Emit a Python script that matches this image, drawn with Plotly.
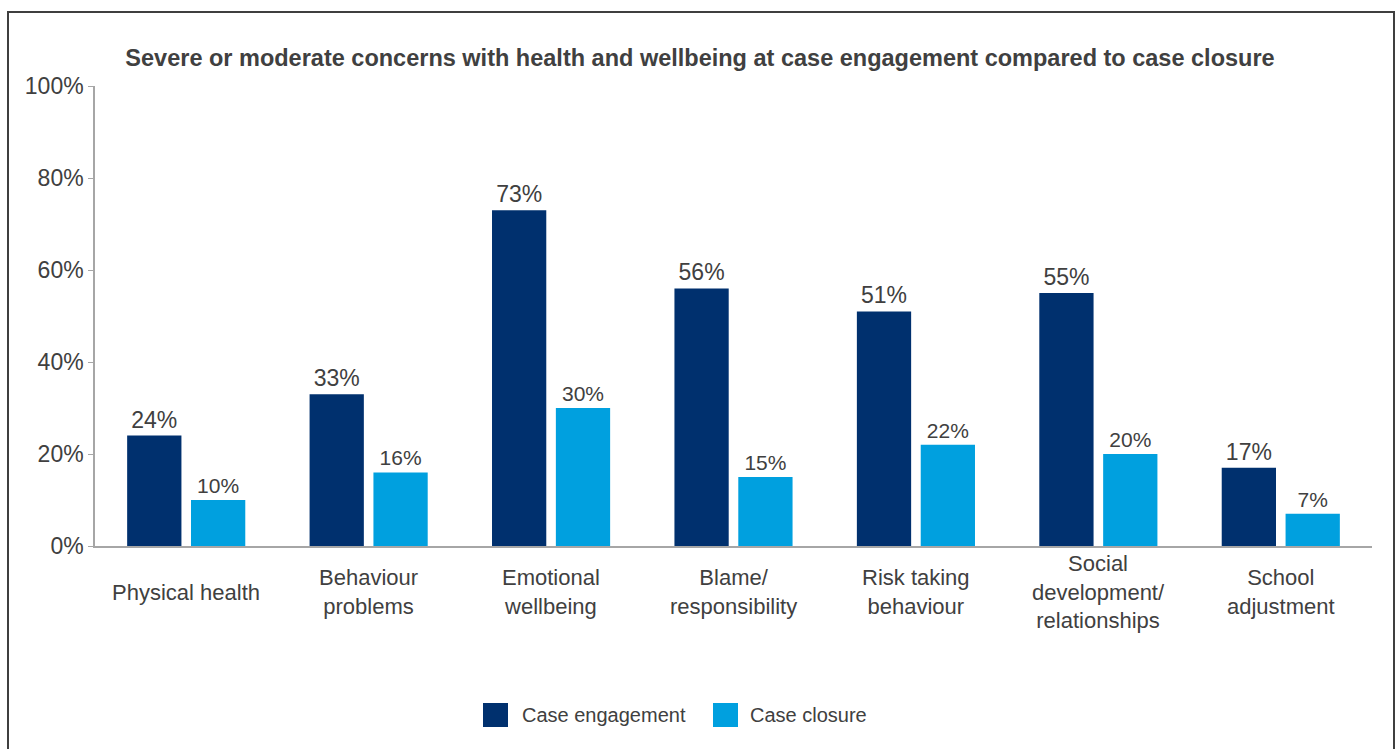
import plotly.graph_objects as go

categories = [
    "Physical health",
    "Behaviour<br>problems",
    "Emotional<br>wellbeing",
    "Blame/<br>responsibility",
    "Risk taking<br>behaviour",
    "Social<br>development/<br>relationships",
    "School<br>adjustment",
]
engagement = [24, 33, 73, 56, 51, 55, 17]
closure = [10, 16, 30, 15, 22, 20, 7]
series_names = ["Case engagement", "Case closure"]
y_ticks = [0, 20, 40, 60, 80, 100]
y_tick_labels = ["0%", "20%", "40%", "60%", "80%", "100%"]

NAVY = "#00306E"
SKY = "#00A0DF"
TEXT = "#404040"
AXIS = "#A6A6A6"
FONT = "Arial, Liberation Sans, sans-serif"

W, H = 1400, 749
ML, MR, MT, MB = 95, 28, 86, 203
PW, PH = W - ML - MR, H - MT - MB


def px(x):
    return (x - ML) / PW


def py(y):
    return (H - MB - y) / PH


fig = go.Figure()
fig.add_trace(go.Bar(
    x=categories, y=engagement, name=series_names[0],
    marker=dict(color=NAVY, line=dict(width=0)),
    text=[f"{v}%" for v in engagement], textposition="outside",
    textfont=dict(size=23, color=TEXT, family=FONT),
    cliponaxis=False, showlegend=False,
))
fig.add_trace(go.Bar(
    x=categories, y=closure, name=series_names[1],
    marker=dict(color=SKY, line=dict(width=0)),
    text=[f"{v}%" for v in closure], textposition="outside",
    textfont=dict(size=21, color=TEXT, family=FONT),
    cliponaxis=False, showlegend=False,
))

annotations = []
# category labels, vertically centred under each group
for c in categories:
    annotations.append(dict(
        x=c, xref="x", y=py(592), yref="paper", text=c, showarrow=False,
        xanchor="center", yanchor="middle", align="center",
        font=dict(size=22, color=TEXT, family=FONT),
    ))

# legend
shapes = []
legend_items = [(483, 520, NAVY, series_names[0]), (713, 748, SKY, series_names[1])]
for sx, tx, col, name in legend_items:
    shapes.append(dict(
        type="rect", xref="paper", yref="paper",
        x0=px(sx), x1=px(sx + 25), y0=py(727), y1=py(703),
        fillcolor=col, line=dict(width=0),
    ))
    annotations.append(dict(
        x=px(tx), xref="paper", y=py(715), yref="paper", text=name,
        showarrow=False, xanchor="left", yanchor="middle",
        font=dict(size=20, color=TEXT, family=FONT),
    ))

# outer frame
shapes.append(dict(
    type="rect", xref="paper", yref="paper",
    x0=px(8), x1=px(1394), y0=py(770), y1=py(12),
    line=dict(color="#3F3F3F", width=2), fillcolor="rgba(0,0,0,0)", layer="below",
))

fig.update_layout(
    width=W, height=H,
    margin=dict(l=ML, r=MR, t=MT, b=MB, autoexpand=False),
    paper_bgcolor="white", plot_bgcolor="white",
    barmode="group", bargap=0.30, bargroupgap=0.15,
    title=dict(
        text="<b>Severe or moderate concerns with health and wellbeing at case engagement compared to case closure</b>",
        x=700 / W, xref="container", xanchor="center",
        y=1 - 58 / H, yanchor="middle",
        font=dict(size=23.5, color=TEXT, family=FONT),
    ),
    xaxis=dict(
        showticklabels=False, showline=True, linecolor=AXIS, linewidth=1.5,
        ticks="", showgrid=False, zeroline=False,
    ),
    yaxis=dict(
        range=[0, 100], tickvals=y_ticks, ticktext=y_tick_labels,
        showline=True, linecolor=AXIS, linewidth=1.5,
        ticks="outside", ticklen=5, tickcolor=AXIS, tickwidth=1,
        showgrid=False, zeroline=False,
        tickfont=dict(size=23, color=TEXT, family=FONT),
    ),
    font=dict(family=FONT, color=TEXT),
    shapes=shapes, annotations=annotations,
    showlegend=False,
)

fig.write_html("out.html")
